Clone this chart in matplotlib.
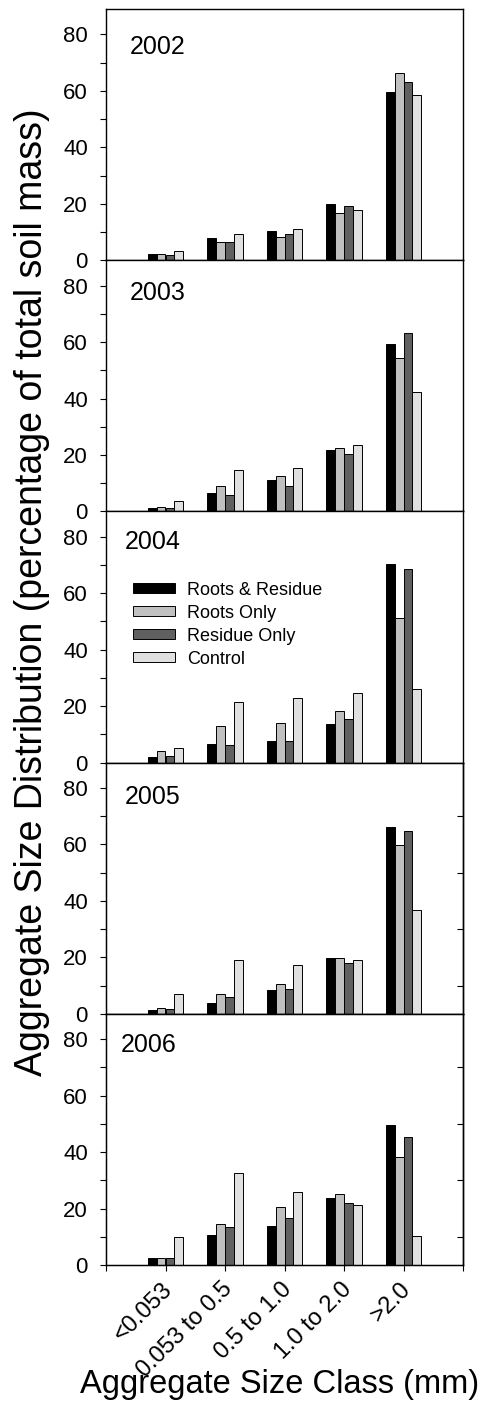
import matplotlib
matplotlib.use("Agg")
import matplotlib.pyplot as plt
from matplotlib.ticker import FixedLocator
import matplotlib.transforms as mtransforms
import numpy as np

plt.rcParams['font.family'] = ['Liberation Sans', 'DejaVu Sans']

categories = ["<0.053", "0.053 to 0.5", "0.5 to 1.0", "1.0 to 2.0", ">2.0"]
years = ["2002", "2003", "2004", "2005", "2006"]
treatments = ["Roots & Residue", "Roots Only", "Residue Only", "Control"]

roots_residue = {
    "2002": [2.1, 7.8, 10.3, 20.0, 59.7],
    "2003": [1.1, 6.5, 11.0, 21.9, 59.4],
    "2004": [2.1, 6.6, 7.6, 13.8, 70.4],
    "2005": [1.2, 3.9, 8.5, 19.8, 66.1],
    "2006": [2.4, 10.6, 13.8, 23.9, 49.6],
}
roots_only = {
    "2002": [2.1, 6.6, 8.2, 16.6, 66.4],
    "2003": [1.4, 8.9, 12.6, 22.3, 54.3],
    "2004": [4.0, 13.0, 14.2, 18.2, 51.1],
    "2005": [2.1, 7.1, 10.4, 19.8, 59.9],
    "2006": [2.4, 14.4, 20.5, 25.1, 38.2],
}
residue_only = {
    "2002": [1.7, 6.3, 9.2, 19.1, 63.3],
    "2003": [1.1, 5.7, 9.1, 20.4, 63.3],
    "2004": [2.2, 6.1, 7.6, 15.6, 68.6],
    "2005": [1.6, 6.1, 8.8, 17.9, 64.9],
    "2006": [2.5, 13.6, 16.8, 21.8, 45.2],
}
control = {
    "2002": [3.1, 9.2, 10.9, 17.9, 58.7],
    "2003": [3.6, 14.6, 15.5, 23.6, 42.4],
    "2004": [5.3, 21.3, 22.9, 24.8, 26.0],
    "2005": [6.9, 19.1, 17.3, 19.1, 36.9],
    "2006": [9.8, 32.7, 25.9, 21.1, 10.4],
}
series = [roots_residue, roots_only, residue_only, control]
colors = ["#000000", "#c0c0c0", "#606060", "#e0e0e0"]

W, H = 483, 1407
fig = plt.figure(figsize=(W / 100, H / 100), dpi=100)
left, right = 106 / W, 463 / W
top_px, bot_px = 9, 1265
ph = (bot_px - top_px) / 5

year_pos = [(0.067, 0.849), (0.067, 0.869), (0.053, 0.879), (0.053, 0.865), (0.042, 0.876)]

x = np.arange(1, len(categories) + 1)
bw = 0.15
axes = []
for i, yr in enumerate(years):
    y0 = 1 - (top_px + ph * (i + 1)) / H
    ax = fig.add_axes([left, y0, right - left, ph / H])
    axes.append(ax)
    for k, (s, c) in enumerate(zip(series, colors)):
        ax.bar(x + (k - 1.5) * bw, s[yr], width=bw, color=c, edgecolor="black",
               linewidth=0.7, label=treatments[k], zorder=2)
    ax.set_xlim(0, 6)
    ax.set_ylim(0, 89)
    ax.yaxis.set_major_locator(FixedLocator([0, 20, 40, 60, 80]))
    ax.yaxis.set_minor_locator(FixedLocator([10, 30, 50, 70]))
    ax.tick_params(axis='y', which='both', direction='out', length=4, width=0.8,
                   labelsize=16, pad=9)
    for sp in ax.spines.values():
        sp.set_linewidth(1.0)
    ax.text(year_pos[i][0], year_pos[i][1], yr, transform=ax.transAxes,
            fontsize=18, ha='left', va='center')
    if i < 4:
        ax.set_xticks([])
    else:
        ax.set_xticks(np.arange(0, 7))
        ax.set_xticklabels([""] + categories + [""], rotation=45, ha='right',
                           va='center', rotation_mode='anchor', fontsize=17)
        ax.tick_params(axis='x', direction='out', length=4, width=0.8, pad=11)
        offset = mtransforms.ScaledTranslation(4 / 100, 0, fig.dpi_scale_trans)
        for lbl in ax.get_xticklabels():
            lbl.set_transform(lbl.get_transform() + offset)
    if i >= 3:
        ax2 = ax.twinx()
        ax2.set_ylim(0, 89)
        ax2.yaxis.set_major_locator(FixedLocator([]))
        ax2.yaxis.set_minor_locator(FixedLocator([10, 30, 50, 70]))
        ax2.tick_params(axis='y', which='minor', direction='in', length=4, width=0.8)
        ax2.spines['right'].set_linewidth(1.0)

axes[2].legend(loc='upper left', bbox_to_anchor=(0.076, 0.72), frameon=False,
               fontsize=13, handlelength=2.3, handleheight=0.45,
               labelspacing=0.33, handletextpad=0.7, borderpad=0, borderaxespad=0)

fig.text(32 / W, 1 - 592 / H, "Aggregate Size Distribution (percentage of total soil mass)",
         rotation=90, ha='center', va='center', fontsize=27)
fig.text(280 / W, 1 - 1385 / H, "Aggregate Size Class (mm)", ha='center', va='center',
         fontsize=23.5)

fig.savefig("out.png", dpi=100)
